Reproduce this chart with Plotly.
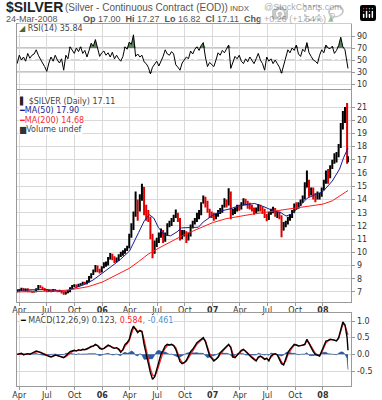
import numpy as np
import pandas as pd
import plotly.graph_objects as go

# ---------------- data (weekly) ----------------
week_dates = [d.strftime("%Y-%m-%d") for d in pd.date_range("2005-03-25", "2008-03-21", freq="W-FRI")] + ["2008-03-24"]

price_open = [
    7.05, 7.10, 7.15, 7.25, 7.10, 7.20, 7.05, 7.05, 7.00, 7.05,
    7.20, 7.45, 7.35, 7.25, 7.15, 7.05, 7.10, 7.05, 7.15, 7.10,
    7.05, 7.10, 6.95, 6.85, 6.95, 7.05, 7.30, 7.45, 7.50, 7.45,
    7.55, 7.60, 7.70, 7.65, 7.80, 8.10, 8.35, 8.60, 8.90, 8.60,
    8.55,
    8.85, 9.05, 9.05, 9.50, 9.80, 9.55, 9.35, 9.40, 9.75, 9.85,
    9.95, 10.15, 10.35, 11.30, 11.80, 12.90, 13.60, 13.20, 14.00, 14.90,
    13.20, 12.80, 12.60, 11.20, 10.00, 10.50, 10.80, 11.20, 11.60, 10.90,
    11.30, 12.00, 12.20, 12.40, 12.70, 12.90, 12.50, 11.20, 11.40, 11.50,
    11.10, 11.30, 11.90, 12.20, 12.40, 12.90, 12.90, 13.70, 14.00, 13.80,
    13.20, 12.90,
    12.90, 12.60, 12.80, 13.05, 13.10, 13.45, 13.90, 13.60, 14.50, 12.90,
    13.10, 13.20, 13.40, 13.35, 13.60, 13.80, 13.75, 13.50, 13.50, 13.30,
    13.00, 13.20, 13.40, 13.30, 13.10, 12.70, 12.50, 12.90, 13.10, 13.20,
    12.80, 12.90, 12.70, 11.70, 12.00, 12.20, 12.50, 12.70, 13.00, 13.60,
    13.40, 13.60, 13.80, 14.10, 14.90, 15.40, 14.50, 14.70, 14.20, 14.20,
    14.30, 14.30,
    14.80, 15.30, 16.00, 15.80, 16.40, 16.80, 17.10, 17.30, 18.00, 19.40,
    20.30, 20.70, 17.00,
]
price_high = [
    7.18, 7.22, 7.32, 7.30, 7.26, 7.28, 7.12, 7.10, 7.10, 7.28,
    7.52, 7.50, 7.40, 7.30, 7.20, 7.16, 7.16, 7.22, 7.22, 7.14,
    7.16, 7.14, 7.00, 7.02, 7.12, 7.36, 7.52, 7.58, 7.56, 7.62,
    7.66, 7.78, 7.78, 7.88, 8.20, 8.42, 8.70, 9.05, 9.00, 8.75,
    8.95,
    9.25, 9.30, 9.65, 9.95, 9.90, 9.70, 9.60, 9.85, 10.05, 10.15,
    10.30, 10.50, 11.40, 12.20, 13.10, 14.60, 14.00, 14.40, 15.20, 14.95,
    13.60, 13.20, 12.70, 11.40, 10.90, 11.10, 11.50, 11.80, 11.70, 11.50,
    12.20, 12.40, 12.60, 12.85, 13.25, 13.00, 12.60, 11.70, 11.70, 11.60,
    11.50, 12.10, 12.40, 12.60, 13.00, 13.20, 13.80, 14.30, 14.20, 13.90,
    13.30, 13.10,
    13.00, 12.95, 13.20, 13.35, 13.60, 14.10, 14.00, 14.85, 14.60, 13.30,
    13.40, 13.60, 13.60, 13.80, 14.10, 14.05, 13.90, 13.75, 13.60, 13.40,
    13.40, 13.65, 13.60, 13.45, 13.30, 12.90, 13.05, 13.30, 13.45, 13.35,
    13.10, 13.10, 12.80, 12.30, 12.40, 12.70, 12.90, 13.20, 13.70, 13.80,
    13.80, 14.00, 14.30, 15.30, 16.20, 15.50, 14.90, 14.90, 14.50, 14.60,
    14.50, 14.90,
    15.50, 16.20, 16.30, 16.60, 17.00, 17.50, 17.60, 18.20, 19.80, 20.70,
    21.00, 21.30, 17.27,
]
price_low = [
    6.98, 7.02, 7.08, 7.04, 7.04, 6.98, 6.98, 6.94, 6.95, 6.98,
    7.14, 7.28, 7.18, 7.08, 6.98, 7.00, 6.98, 6.99, 7.04, 6.98,
    7.00, 6.88, 6.78, 6.80, 6.90, 6.98, 7.22, 7.38, 7.38, 7.38,
    7.48, 7.54, 7.56, 7.58, 7.72, 8.02, 8.28, 8.50, 8.50, 8.40,
    8.48,
    8.80, 8.90, 9.00, 9.45, 9.40, 9.20, 9.25, 9.35, 9.65, 9.75,
    9.90, 10.10, 10.30, 11.10, 11.70, 12.70, 12.40, 13.10, 13.90, 12.80,
    12.40, 12.30, 11.00, 9.55, 9.90, 10.40, 10.70, 11.10, 10.70, 10.80,
    11.30, 11.90, 12.00, 12.30, 12.60, 12.30, 10.90, 11.00, 11.20, 10.70,
    10.90, 11.20, 11.80, 12.10, 12.30, 12.50, 12.80, 13.70, 13.40, 13.00,
    12.60, 12.60,
    12.40, 12.50, 12.70, 12.90, 13.00, 13.40, 13.40, 13.55, 12.50, 12.80,
    12.90, 13.10, 13.15, 13.25, 13.55, 13.55, 13.30, 13.25, 13.10, 12.85,
    12.95, 13.10, 13.10, 12.90, 12.60, 12.35, 12.45, 12.85, 12.95, 12.70,
    12.60, 12.50, 11.15, 11.65, 11.90, 12.10, 12.40, 12.60, 13.00, 13.20,
    13.30, 13.50, 13.75, 14.00, 14.90, 14.20, 14.30, 14.00, 13.80, 14.00,
    14.00, 14.20,
    14.70, 15.20, 15.20, 15.60, 16.30, 16.70, 16.80, 17.20, 17.90, 19.30,
    19.80, 16.70, 16.82,
]
price_close = [
    7.10, 7.15, 7.25, 7.10, 7.20, 7.05, 7.05, 7.00, 7.05, 7.20,
    7.45, 7.35, 7.25, 7.15, 7.05, 7.10, 7.05, 7.15, 7.10, 7.05,
    7.10, 6.95, 6.85, 6.95, 7.05, 7.30, 7.45, 7.50, 7.45, 7.55,
    7.60, 7.70, 7.65, 7.80, 8.10, 8.35, 8.60, 8.90, 8.60, 8.55,
    8.85,
    9.05, 9.05, 9.50, 9.80, 9.55, 9.35, 9.40, 9.75, 9.85, 9.95,
    10.15, 10.35, 11.30, 11.80, 12.90, 13.60, 13.20, 14.00, 14.90, 13.20,
    12.80, 12.60, 11.20, 10.00, 10.50, 10.80, 11.20, 11.60, 10.90, 11.30,
    12.00, 12.20, 12.40, 12.70, 12.90, 12.50, 11.20, 11.40, 11.50, 11.10,
    11.30, 11.90, 12.20, 12.40, 12.90, 12.90, 13.70, 14.00, 13.80, 13.20,
    12.90, 12.90,
    12.60, 12.80, 13.05, 13.10, 13.45, 13.90, 13.60, 14.50, 12.90, 13.10,
    13.20, 13.40, 13.35, 13.60, 13.80, 13.75, 13.50, 13.50, 13.30, 13.00,
    13.20, 13.40, 13.30, 13.10, 12.70, 12.50, 12.90, 13.10, 13.20, 12.80,
    12.90, 12.70, 11.70, 12.00, 12.20, 12.50, 12.70, 13.00, 13.60, 13.40,
    13.60, 13.80, 14.10, 14.90, 15.40, 14.50, 14.70, 14.20, 14.20, 14.30,
    14.30, 14.80,
    15.30, 16.00, 15.80, 16.40, 16.80, 17.10, 17.30, 18.00, 19.40, 20.30,
    20.70, 16.85, 17.11,
]

ma50_dates = [
    "2005-03-24", "2005-05-01", "2005-07-01", "2005-09-01", "2005-10-01", "2005-11-01",
    "2005-12-01", "2006-01-01", "2006-02-01", "2006-03-01", "2006-04-01", "2006-05-01",
    "2006-05-20", "2006-06-05", "2006-06-20", "2006-07-05", "2006-07-25", "2006-08-15",
    "2006-09-05", "2006-09-20", "2006-10-15", "2006-11-15", "2006-12-01", "2007-01-01",
    "2007-02-01", "2007-03-01", "2007-04-01", "2007-05-01", "2007-05-20", "2007-06-20",
    "2007-07-20", "2007-08-15", "2007-09-01", "2007-09-20", "2007-10-15", "2007-11-10",
    "2007-12-05", "2008-01-01", "2008-02-01", "2008-02-25", "2008-03-10", "2008-03-24",
]
ma50_values = [
    7.15, 7.15, 7.18, 7.05, 7.30, 7.55,
    7.90, 8.40, 8.95, 9.45, 10.10, 11.50,
    12.40, 12.85, 12.60, 11.90, 11.30, 11.25,
    11.55, 11.85, 11.85, 11.90, 12.30, 12.80,
    13.15, 13.30, 13.55, 13.65, 13.70, 13.45,
    13.15, 13.00, 12.75, 12.90, 13.50, 14.10,
    14.35, 14.60, 15.40, 16.30, 17.20, 17.90,
]

ma200_dates = [
    "2005-03-24", "2005-06-01", "2005-08-15", "2005-10-01", "2005-11-15", "2006-01-01",
    "2006-02-15", "2006-04-01", "2006-05-01", "2006-06-01", "2006-07-01", "2006-08-01",
    "2006-09-01", "2006-10-01", "2006-11-01", "2006-12-01", "2007-01-01", "2007-02-15",
    "2007-04-01", "2007-05-15", "2007-07-01", "2007-08-15", "2007-10-01", "2007-11-15",
    "2008-01-01", "2008-02-01", "2008-03-01", "2008-03-24",
]
ma200_values = [
    7.00, 7.02, 7.08, 7.22, 7.40, 7.75,
    8.25, 8.80, 9.30, 9.85, 10.25, 10.65,
    11.00, 11.35, 11.65, 11.95, 12.25, 12.55,
    12.75, 12.90, 13.05, 13.20, 13.35, 13.45,
    13.65, 13.90, 14.30, 14.68,
]

rsi_values = [
    44, 58, 50, 55, 48, 61, 53, 58, 60, 67,
    58, 50, 45, 39, 31, 45, 55, 48, 58, 50,
    45, 52, 33, 58, 52, 72, 67, 61, 70, 64,
    72, 61, 66, 55, 66, 78, 73, 84, 70, 56,
    62, 65, 58, 62, 55, 63, 52, 58, 52, 48,
    56, 72, 68, 80, 76, 92, 56, 60, 55, 58,
    47, 44, 38, 27, 38, 44, 48, 40, 47, 56,
    67, 60, 58, 64, 60, 42, 38, 33, 45, 50,
    55, 52, 65, 60, 68, 72, 66, 74, 79, 55,
    39, 46, 42, 39, 50, 62, 58, 66, 62, 70,
    75, 36, 48, 56, 52, 58, 48, 44, 52, 47,
    55, 50, 44, 52, 61, 50, 44, 33, 55, 48,
    52, 44, 50, 44, 38, 28, 42, 55, 67, 62,
    70, 66, 75, 60, 56, 68, 64, 79, 62, 56,
    50, 48, 44, 58, 67, 62, 75, 70, 69, 73,
    61, 66, 74, 88, 72, 67, 45, 35.84,
]

macd_values = [
    0.00, 0.02, 0.03, -0.01, 0.00, 0.02, 0.00, 0.03, 0.06, 0.10,
    0.08, 0.05, 0.02, -0.02, -0.05, -0.06, -0.08, -0.04, -0.02, -0.04,
    -0.06, -0.08, -0.10, -0.04, 0.03, 0.08, 0.10, 0.12, 0.10, 0.14,
    0.12, 0.15, 0.14, 0.16, 0.20, 0.24, 0.25, 0.30, 0.26, 0.18,
    0.15, 0.18, 0.22, 0.28, 0.25, 0.20, 0.18, 0.20, 0.15, 0.06,
    0.15, 0.30, 0.35, 0.45, 0.70, 0.85, 0.75, 0.65, 0.72, 0.68,
    0.30, 0.00, -0.30, -0.55, -0.75, -0.68, -0.45, -0.20, 0.00, 0.12,
    0.25, 0.30, 0.28, 0.30, 0.26, 0.15, -0.05, -0.22, -0.28, -0.25,
    -0.18, -0.05, 0.08, 0.15, 0.25, 0.35, 0.40, 0.45, 0.50, 0.38,
    0.12, -0.05, -0.12, -0.20, -0.15, -0.08, 0.05, 0.12, 0.18, 0.25,
    0.30, 0.20, -0.08, -0.10, -0.02, 0.05, 0.12, 0.15, 0.08, 0.02,
    -0.05, -0.10, -0.15, -0.20, -0.08, -0.05, -0.10, -0.15, -0.12, -0.20,
    -0.05, 0.00, 0.02, -0.02, -0.15, -0.28, -0.32, -0.15, 0.05, 0.15,
    0.22, 0.30, 0.28, 0.25, 0.26, 0.28, 0.30, 0.45, 0.32, 0.20,
    0.08, 0.00, -0.03, -0.05, 0.10, 0.25, 0.40, 0.42, 0.45, 0.44,
    0.42, 0.40, 0.50, 0.75, 0.97, 0.88, 0.50, 0.123,
]
signal_values = [
    0.00, 0.01, 0.02, 0.01, 0.00, 0.01, 0.01, 0.02, 0.04, 0.07,
    0.08, 0.07, 0.04, 0.01, -0.03, -0.05, -0.07, -0.06, -0.03, -0.03,
    -0.05, -0.07, -0.09, -0.07, -0.01, 0.05, 0.08, 0.11, 0.11, 0.12,
    0.12, 0.14, 0.14, 0.15, 0.18, 0.22, 0.24, 0.28, 0.27, 0.22,
    0.17, 0.17, 0.20, 0.25, 0.25, 0.22, 0.19, 0.19, 0.17, 0.10,
    0.12, 0.24, 0.32, 0.40, 0.60, 0.78, 0.78, 0.70, 0.70, 0.70,
    0.45, 0.15, -0.15, -0.42, -0.62, -0.66, -0.54, -0.32, -0.10, 0.06,
    0.18, 0.26, 0.28, 0.29, 0.27, 0.20, 0.03, -0.14, -0.24, -0.25,
    -0.21, -0.10, 0.02, 0.11, 0.20, 0.30, 0.37, 0.42, 0.47, 0.42,
    0.22, 0.03, -0.08, -0.16, -0.15, -0.10, 0.00, 0.09, 0.15, 0.22,
    0.28, 0.23, 0.02, -0.08, -0.04, 0.02, 0.09, 0.13, 0.10, 0.04,
    -0.02, -0.07, -0.12, -0.18, -0.11, -0.06, -0.08, -0.13, -0.12, -0.17,
    -0.09, -0.02, 0.01, -0.01, -0.10, -0.23, -0.30, -0.20, -0.02, 0.11,
    0.19, 0.27, 0.28, 0.26, 0.26, 0.27, 0.29, 0.40, 0.35, 0.24,
    0.12, 0.03, -0.01, -0.04, 0.05, 0.19, 0.34, 0.40, 0.44, 0.44,
    0.42, 0.41, 0.47, 0.68, 0.90, 0.88, 0.62, 0.584,
]

tick_dates = ["2005-04-01", "2005-07-01", "2005-10-01", "2006-01-01",
              "2006-04-01", "2006-07-01", "2006-10-01", "2007-01-01",
              "2007-04-01", "2007-07-01", "2007-10-01", "2008-01-01"]
tick_labels = ["Apr", "Jul", "Oct", "<b>06</b>", "Apr", "Jul", "Oct", "<b>07</b>",
               "Apr", "Jul", "Oct", "<b>08</b>"]

rsi_levels = [10, 30, 50, 70, 90]
price_levels = [7, 8, 9, 10, 11, 12, 13, 14, 15, 16, 17, 18, 19, 20, 21]
macd_levels = [-0.5, 0.0, 0.5, 1.0]
macd_level_text = ["-0.5", "0.0", "0.5", "1.0"]

# ---------------- figure ----------------
W, H = 382, 400
def px(x):
    return x / W
def py(y):
    return 1 - y / H

X_RANGE = ["2005-03-24", "2008-04-04"]
XDOM = [px(13), px(351)]
GRID = "#d9d9d9"
AXL = "#9a9a9a"
TICKFONT = dict(family="DejaVu Sans", size=8, color="#333333")

n = len(week_dates)
rsi = np.array(rsi_values, dtype=float)
hist = np.array(macd_values) - np.array(signal_values)

fig = go.Figure()

# --- RSI panel ---
fig.add_trace(go.Scatter(x=week_dates, y=[70] * n, mode="lines", line=dict(width=0),
                         xaxis="x", yaxis="y", hoverinfo="skip", showlegend=False))
fig.add_trace(go.Scatter(x=week_dates, y=np.maximum(rsi, 70), mode="lines", line=dict(width=0),
                         fill="tonexty", fillcolor="rgba(62,110,62,0.85)",
                         xaxis="x", yaxis="y", hoverinfo="skip", showlegend=False))
fig.add_trace(go.Scatter(x=week_dates, y=[30] * n, mode="lines", line=dict(width=0),
                         xaxis="x", yaxis="y", hoverinfo="skip", showlegend=False))
fig.add_trace(go.Scatter(x=week_dates, y=np.minimum(rsi, 30), mode="lines", line=dict(width=0),
                         fill="tonexty", fillcolor="rgba(62,110,62,0.85)",
                         xaxis="x", yaxis="y", hoverinfo="skip", showlegend=False))
fig.add_trace(go.Scatter(x=week_dates, y=rsi, mode="lines", line=dict(color="black", width=1),
                         xaxis="x", yaxis="y", showlegend=False))

# --- price panel ---
fig.add_trace(go.Ohlc(x=week_dates, open=price_open, high=price_high, low=price_low, close=price_close,
                      increasing=dict(line=dict(color="black", width=2)),
                      decreasing=dict(line=dict(color="#e00000", width=2)),
                      tickwidth=0.35, xaxis="x2", yaxis="y2", showlegend=False))
fig.add_trace(go.Scatter(x=ma50_dates, y=ma50_values, mode="lines", line=dict(color="#1a1a90", width=1),
                         xaxis="x2", yaxis="y2", showlegend=False))
fig.add_trace(go.Scatter(x=ma200_dates, y=ma200_values, mode="lines", line=dict(color="#ff1a1a", width=1),
                         xaxis="x2", yaxis="y2", showlegend=False))

# --- MACD panel ---
fig.add_trace(go.Scatter(x=week_dates, y=hist, mode="lines", line=dict(color="#1f4f9a", width=0.6),
                         fill="tozeroy", fillcolor="#2a5ca8", xaxis="x3", yaxis="y3", showlegend=False))
fig.add_trace(go.Scatter(x=week_dates, y=signal_values, mode="lines", line=dict(color="#ff2020", width=1.2),
                         xaxis="x3", yaxis="y3", showlegend=False))
fig.add_trace(go.Scatter(x=week_dates, y=macd_values, mode="lines", line=dict(color="black", width=1.4),
                         xaxis="x3", yaxis="y3", showlegend=False))

xcommon = dict(domain=XDOM, type="date", range=X_RANGE, tickvals=tick_dates, ticktext=tick_labels,
               showgrid=True, gridcolor=GRID, gridwidth=1, showline=True, linecolor=AXL, mirror=True,
               zeroline=False, tickfont=TICKFONT, fixedrange=True, rangeslider=dict(visible=False))

fig.update_layout(
    width=W, height=H, autosize=False,
    margin=dict(l=0, r=0, t=0, b=0),
    paper_bgcolor="white", plot_bgcolor="white",
    hovermode=False, dragmode=False, showlegend=False,
    xaxis=dict(xcommon, anchor="y", showticklabels=False, ticks=""),
    xaxis2=dict(xcommon, anchor="y2", showticklabels=True, ticks="outside", ticklen=3, tickcolor=AXL,
                ticklabelstandoff=-3),
    xaxis3=dict(xcommon, anchor="y3", showticklabels=True, ticks="outside", ticklen=3, tickcolor=AXL,
                ticklabelstandoff=-2),
    yaxis=dict(domain=[py(89), py(24)], anchor="x", side="right", range=[1.7, 110],
               tickvals=rsi_levels, showgrid=True, gridcolor=GRID, showline=True, linecolor=AXL,
               mirror=True, zeroline=False, ticks="outside", ticklen=3, tickcolor=AXL,
               tickfont=TICKFONT, fixedrange=True),
    yaxis2=dict(domain=[py(302), py(90)], anchor="x2", side="right", range=[6.24, 22.29],
                tickvals=price_levels, showgrid=True, gridcolor=GRID, showline=True, linecolor=AXL,
                mirror=True, zeroline=False, ticks="outside", ticklen=3, tickcolor=AXL,
                tickfont=TICKFONT, fixedrange=True),
    yaxis3=dict(domain=[py(386), py(313)], anchor="x3", side="right", range=[-0.95, 1.24],
                tickvals=macd_levels, ticktext=macd_level_text, showgrid=True, gridcolor=GRID,
                showline=True, linecolor=AXL, mirror=True, zeroline=False, ticks="outside",
                ticklen=3, tickcolor=AXL, tickfont=TICKFONT, fixedrange=True),
)

# RSI reference lines
fig.add_shape(type="line", xref="x domain", yref="y", x0=0, x1=1, y0=70, y1=70,
              line=dict(color="#8c8c8c", width=1), layer="below")
fig.add_shape(type="line", xref="x domain", yref="y", x0=0, x1=1, y0=30, y1=30,
              line=dict(color="#8c8c8c", width=1), layer="below")
fig.add_shape(type="line", xref="x domain", yref="y", x0=0, x1=1, y0=50, y1=50,
              line=dict(color="#aaaaaa", width=1, dash="dashdot"), layer="below")

HF = "Liberation Sans"
LF = "DejaVu Sans"

def ann(text, x, y, size, color="#333333", family=LF, xanchor="left", bg=None):
    fig.add_annotation(text=text, x=px(x), y=py(y), xref="paper", yref="paper",
                       xanchor=xanchor, yanchor="middle", showarrow=False,
                       font=dict(family=family, size=size, color=color),
                       bgcolor=bg, borderpad=0)

# header
ann("<b>$SILVER</b>", 1, 7, 14, color="#222222", family=HF)
ann("(Silver - Continuous Contract (EOD))", 61, 7.5, 10, color="#555555", family=HF)
ann("INDX", 227, 8, 8, color="#555555", family=HF)
ann("@StockCharts.com", 343, 7, 9, color="#555555", family=HF, xanchor="right")
ann("24-Mar-2008", 1, 18.5, 9, color="#555555", family=HF)
ann("<b>Op</b> 17.00  <b>Hi</b> 17.27  <b>Lo</b> 16.82  <b>Cl</b> 17.11  <b>Chg</b> +0.26 (+1.54%)",
    326, 18.5, 9, color="#555555", family=HF, xanchor="right")
ann("▲", 334, 18.5, 7, color="#2e8b2e", family=LF, xanchor="right")

# RSI label
ann("<span style='color:#3e6e3e'>◢</span> RSI(14) 35.84", 14, 28.5, 8, color="#444444", bg="white")

# price legend
ann("<span style='color:#222'>▌</span> $SILVER (Daily) 17.11", 14, 101.5, 8, color="#444444", bg="white")
ann("<span style='color:#1a1a90'>━</span><span style='color:#1a1a90'>MA(50) 17.90</span>", 14, 110.8, 8, bg="white")
ann("<span style='color:#ff1a1a'>━</span><span style='color:#ee3030'>MA(200) 14.68</span>", 14, 120, 8, bg="white")
ann("<span style='color:#333'>▆</span>Volume undef", 14, 129, 8, color="#444444", bg="white")

# MACD label
ann("<span style='color:black'>━</span> MACD(12,26,9) 0.123<span style='color:#ff2020'>, 0.584</span>"
    "<span style='color:#4a8fd8'>, -0.461</span>", 15, 320.5, 8, color="#444444", bg="white")

fig.write_html("out.html",
               post_script="document.body.style.margin='0px';document.body.style.overflow='hidden';")
